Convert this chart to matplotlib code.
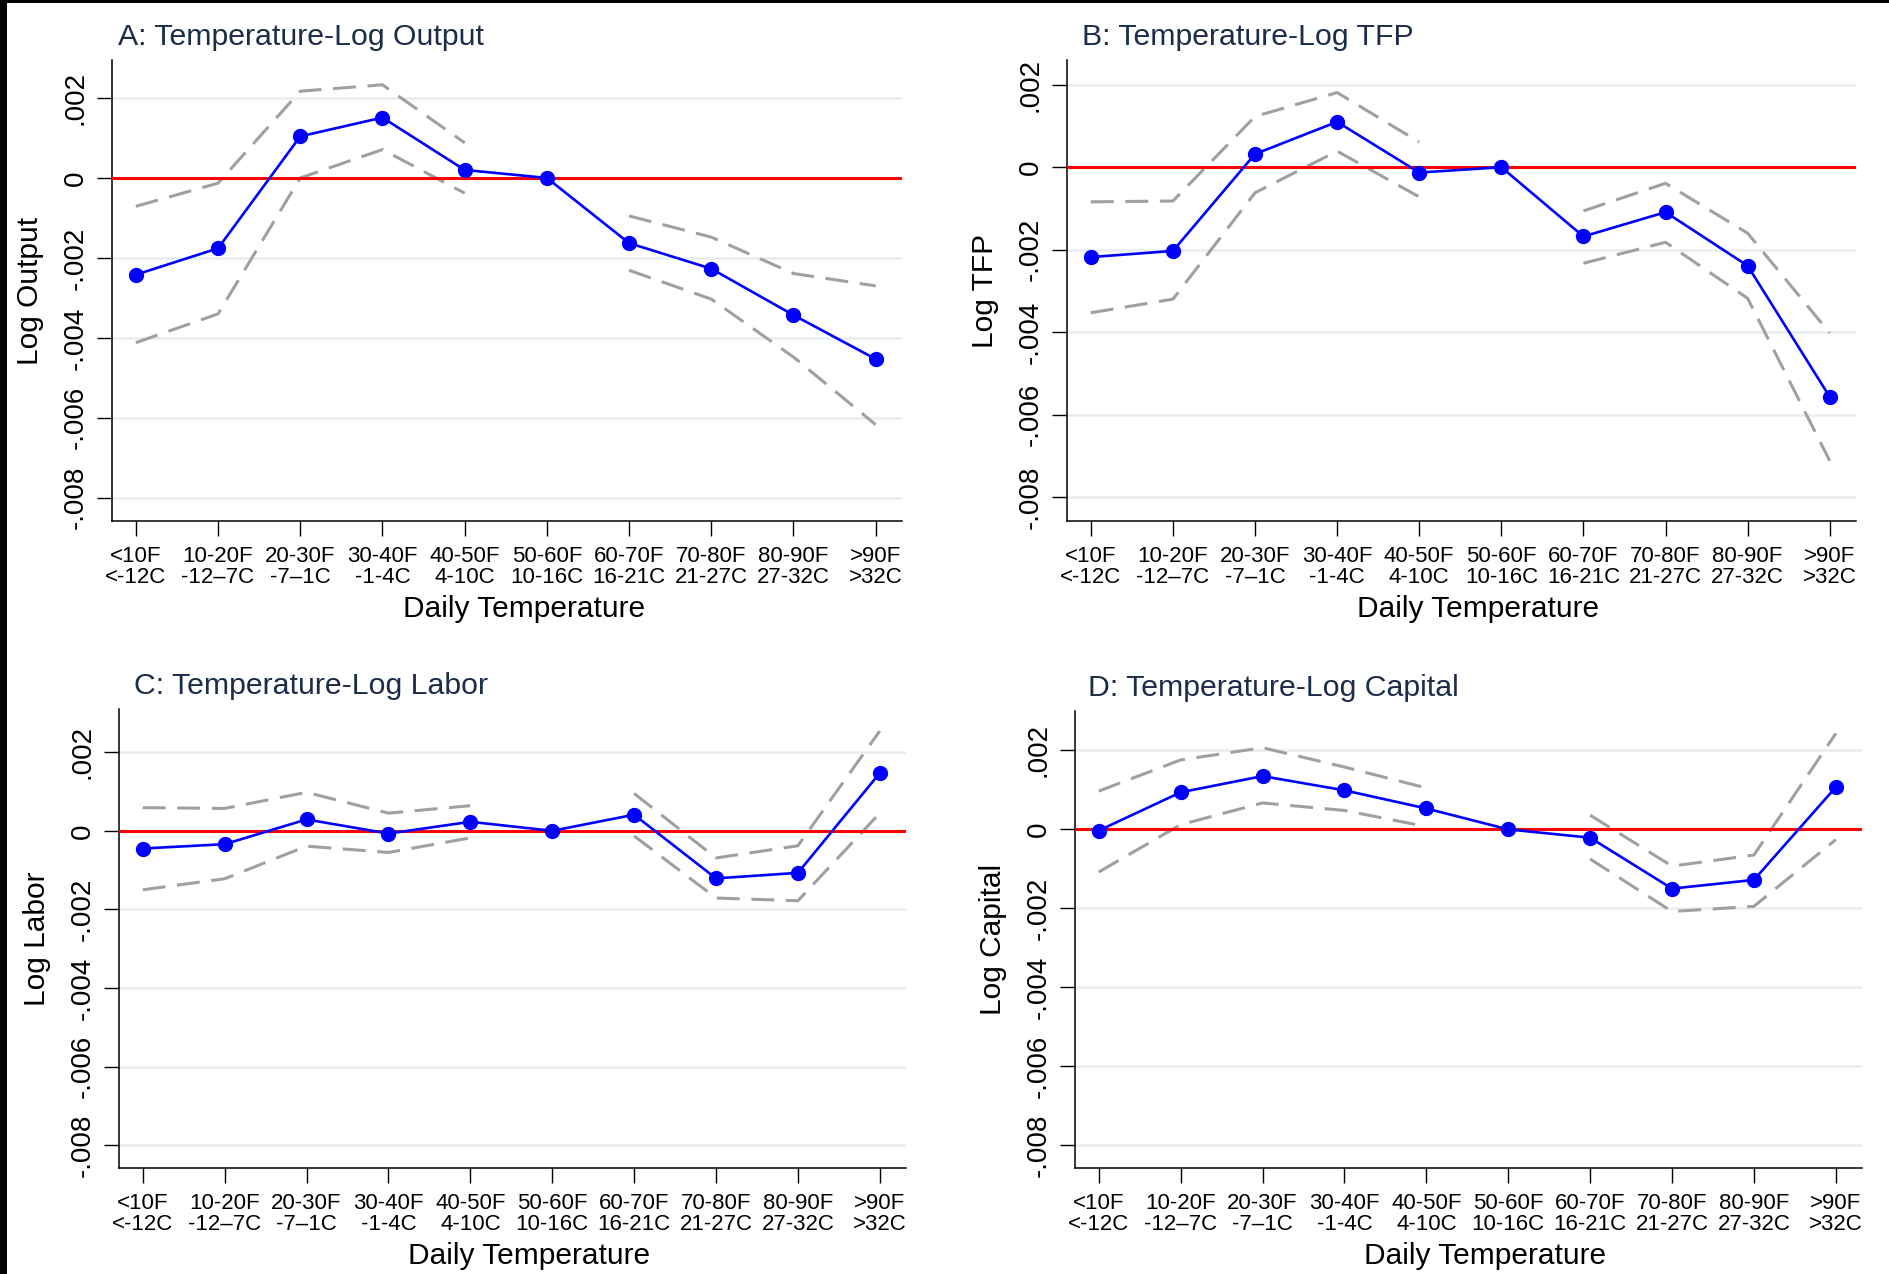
import numpy as np
import matplotlib
matplotlib.use('Agg')
import matplotlib.pyplot as plt
from matplotlib.patches import Rectangle

plt.rcParams['font.family'] = ['Liberation Sans', 'DejaVu Sans']

# categorias de temperatura diaria
categorias = ['<10F\n<-12C', '10-20F\n-12–7C', '20-30F\n-7–1C', '30-40F\n-1-4C',
              '40-50F\n4-10C', '50-60F\n10-16C', '60-70F\n16-21C', '70-80F\n21-27C',
              '80-90F\n27-32C', '>90F\n>32C']
nan = np.nan

# A: produto
out_est = [-0.00242, -0.00176, 0.00104, 0.00151, 0.00020, 0.0, -0.00163, -0.00227, -0.00343, -0.00453]
out_hi = [-0.00071, -0.00013, 0.00217, 0.00233, 0.00088, nan, -0.00095, -0.00148, -0.00239, -0.00270]
out_lo = [-0.00412, -0.00340, 0.00000, 0.00071, -0.00038, nan, -0.00231, -0.00303, -0.00448, -0.00617]

# B: TFP
tfp_est = [-0.00218, -0.00203, 0.00032, 0.00110, -0.00013, 0.0, -0.00168, -0.00109, -0.00239, -0.00557]
tfp_hi = [-0.00084, -0.00082, 0.00123, 0.00181, 0.00061, nan, -0.00106, -0.00039, -0.00160, -0.00402]
tfp_lo = [-0.00353, -0.00320, -0.00062, 0.00039, -0.00072, nan, -0.00233, -0.00182, -0.00318, -0.00712]

# C: trabalho
lab_est = [-0.00045, -0.00034, 0.00029, -0.00007, 0.00023, 0.0, 0.00041, -0.00121, -0.00107, 0.00147]
lab_hi = [0.00059, 0.00057, 0.00098, 0.00045, 0.00064, nan, 0.00095, -0.00069, -0.00038, 0.00254]
lab_lo = [-0.00150, -0.00122, -0.00039, -0.00055, -0.00018, nan, -0.00013, -0.00171, -0.00178, 0.00045]

# D: capital
cap_est = [-0.00003, 0.00094, 0.00135, 0.00099, 0.00053, 0.0, -0.00021, -0.00150, -0.00128, 0.00107]
cap_hi = [0.00097, 0.00176, 0.00207, 0.00158, 0.00105, nan, 0.00036, -0.00093, -0.00065, 0.00243]
cap_lo = [-0.00108, 0.00012, 0.00067, 0.00048, 0.00007, nan, -0.00075, -0.00208, -0.00195, -0.00026]

yticks = [-0.008, -0.006, -0.004, -0.002, 0.0, 0.002]
ytick_labels = ['-.008', '-.006', '-.004', '-.002', '0', '.002']

W, H = 1890, 1274
fig = plt.figure(figsize=(W / 100, H / 100), dpi=100)


def painel(rect_px, est, hi, lo, titulo, ylabel, ytop, title_dx):
    left, top, right, bottom = rect_px
    ax = fig.add_axes([left / W, 1 - bottom / H, (right - left) / W, (bottom - top) / H])
    x = np.arange(len(categorias))

    for yv in yticks:
        if yv != 0:
            ax.axhline(yv, color='#e6eef1', lw=1.8, zorder=0)

    ax.plot(x, hi, color='#a0a0a0', lw=2.2, dashes=(7.5, 3.8), zorder=2)
    ax.plot(x, lo, color='#a0a0a0', lw=2.2, dashes=(7.5, 3.8), zorder=2)
    ax.axhline(0, color='#ff0000', lw=2.2, zorder=3)
    ax.plot(x, est, color='#0000ff', lw=1.9, marker='o', markersize=10, zorder=4)

    ax.set_xlim(-0.29, 9.32)
    ax.set_ylim(-0.00858, ytop)
    ax.set_xticks(x)
    ax.set_xticklabels(categorias, fontsize=16, linespacing=1.0)
    ax.set_yticks(yticks)
    ax.set_yticklabels(ytick_labels, fontsize=20, rotation=90, va='center')
    ax.tick_params(axis='both', direction='out', length=11, width=1, color='black')
    ax.tick_params(axis='y', pad=6)
    ax.tick_params(axis='x', pad=7)

    for s in ['top', 'right']:
        ax.spines[s].set_visible(False)
    for s in ['left', 'bottom']:
        ax.spines[s].set_linewidth(1.1)

    ax.set_xlabel('Daily Temperature', fontsize=21.5, labelpad=5)
    ax.xaxis.label.set_x(0.5 + 17 / (right - left))
    ax.set_ylabel(ylabel, fontsize=21.5, labelpad=13)
    ax.text(title_dx / (right - left), 1 + 15 / (bottom - top), titulo, transform=ax.transAxes,
            fontsize=21.8, color='#1c2d4b', ha='left', va='baseline')
    return ax


painel((112, 60, 902, 521), out_est, out_hi, out_lo, 'A: Temperature-Log Output', 'Log Output', 0.00295, 6)
painel((1067, 60, 1856, 521), tfp_est, tfp_hi, tfp_lo, 'B: Temperature-Log TFP', 'Log TFP', 0.0026, 15)
painel((119, 709, 906, 1168), lab_est, lab_hi, lab_lo, 'C: Temperature-Log Labor', 'Log Labor', 0.0031, 15)
painel((1075, 711, 1862, 1168), cap_est, cap_hi, cap_lo, 'D: Temperature-Log Capital', 'Log Capital', 0.0030, 13)

# borda preta (topo e esquerda) como na imagem original
fig.add_artist(Rectangle((0, 1 - 3 / H), 1, 3 / H, transform=fig.transFigure, color='black', lw=0))
fig.add_artist(Rectangle((0, 0), 7 / W, 1, transform=fig.transFigure, color='black', lw=0))

plt.savefig('out.png', dpi=100)
